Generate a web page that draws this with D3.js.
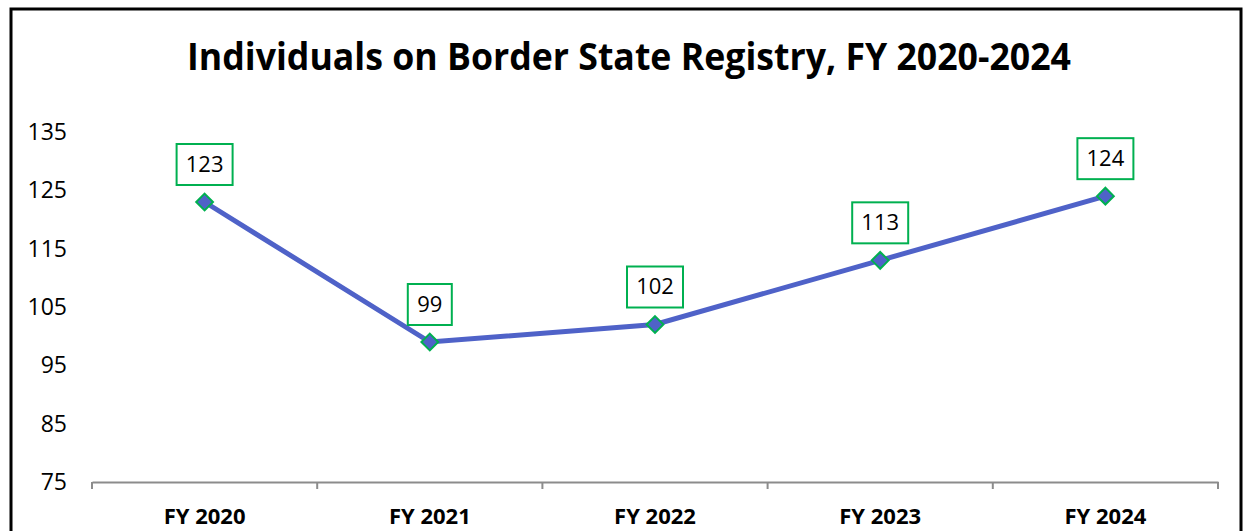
<!DOCTYPE html>
<html>
<head>
<meta charset="utf-8">
<script src="https://cdn.jsdelivr.net/npm/d3@7"></script>
<style>
  body { margin: 0; background: #fff; }
  svg { display: block; font-family: "Open Sans", sans-serif; }
</style>
</head>
<body>
<script>
const years = ['FY 2020', 'FY 2021', 'FY 2022', 'FY 2023', 'FY 2024']
const counts = [123, 99, 102, 113, 124]
const yTicks = [75, 85, 95, 105, 115, 125, 135]

const box = { width: 1248, height: 531, left: 92, right: 1218, top: 132, bottom: 482 }

const svg = d3.select('body').append('svg')
  .attr('width', box.width).attr('height', box.height)

svg.append('rect')
  .attr('x', 11).attr('y', 9).attr('width', 1230).attr('height', 540)
  .attr('fill', 'none').attr('stroke', '#000').attr('stroke-width', 3)

svg.append('text')
  .attr('x', 629).attr('y', 70)
  .attr('text-anchor', 'middle')
  .attr('font-size', 37).attr('font-weight', 'bold')
  .attr('textLength', 884).attr('lengthAdjust', 'spacingAndGlyphs')
  .text('Individuals on Border State Registry, FY 2020-2024')

const xScale = d3.scaleBand().domain(years).range([box.left, box.right])
const yScale = d3.scaleLinear().domain([75, 135]).range([box.bottom, box.top])

// y labels (no axis line)
svg.append('g').selectAll('text').data(yTicks).join('text')
  .attr('x', 67).attr('y', d => yScale(d)).attr('dy', '0.35em')
  .attr('text-anchor', 'end').attr('font-size', 23)
  .text(d => d)

// x axis
const xAxis = svg.append('g')
  .attr('transform', `translate(0,${box.bottom})`)
  .call(d3.axisBottom(xScale).tickSize(0).tickPadding(26))
xAxis.select('.domain').attr('stroke', '#8c8c8c').attr('stroke-width', 2)
xAxis.selectAll('text').attr('font-size', 22).attr('font-weight', 'bold').attr('fill', '#000')
  .attr('font-family', '"Open Sans", sans-serif')
const edges = years.map(d => xScale(d)).concat([xScale.range()[1]])
xAxis.selectAll('line.edge').data(edges).join('line').attr('class', 'edge')
  .attr('x1', d => d).attr('x2', d => d).attr('y1', 0).attr('y2', 7)
  .attr('stroke', '#8c8c8c').attr('stroke-width', 2)

const cx = d => xScale(d) + xScale.bandwidth() / 2
const pts = years.map((y, i) => ({ year: y, value: counts[i] }))

const line = d3.line().x(d => cx(d.year)).y(d => yScale(d.value))
svg.append('path').attr('d', line(pts))
  .attr('fill', 'none').attr('stroke', '#4f62c8').attr('stroke-width', 5)

svg.append('g').selectAll('path').data(pts).join('path')
  .attr('d', d3.symbol(d3.symbolDiamond2, 180))
  .attr('transform', d => `translate(${cx(d.year)},${yScale(d.value)})`)
  .attr('fill', '#4f62c8').attr('stroke', '#00b050').attr('stroke-width', 2)

// data labels
const lab = svg.append('g').selectAll('g').data(pts).join('g')
  .attr('transform', d => `translate(${cx(d.year)},${yScale(d.value) - 38})`)
lab.append('rect')
  .attr('x', d => d.value >= 100 ? -28 : -22).attr('y', -20)
  .attr('width', d => d.value >= 100 ? 56 : 44).attr('height', 41)
  .attr('fill', '#fff').attr('stroke', '#00b050').attr('stroke-width', 2)
lab.append('text')
  .attr('text-anchor', 'middle').attr('dy', '0.35em').attr('font-size', 22)
  .text(d => d.value)
</script>
</body>
</html>
